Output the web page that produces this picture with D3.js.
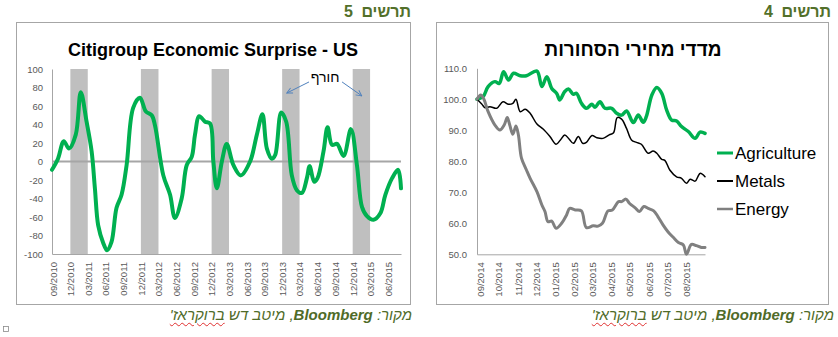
<!DOCTYPE html>
<html><head><meta charset="utf-8">
<script src="https://cdn.jsdelivr.net/npm/d3@7"></script>
<style>
body{margin:0;background:#fff;width:838px;height:337px;overflow:hidden;position:relative;font-family:"Liberation Sans",Arial,sans-serif}
svg{position:absolute;left:0;top:0}
.hdr{position:absolute;direction:rtl;font-weight:bold;font-size:16px;line-height:16px;color:#52702a;white-space:nowrap;word-spacing:4px}
.src{position:absolute;direction:rtl;font-style:italic;font-size:15px;line-height:15px;color:#4f6b28;white-space:nowrap}
.src .sp{text-decoration:underline wavy #e03030;text-decoration-thickness:1px;text-underline-offset:2px}
</style></head><body>
<svg id="chart" width="838" height="337"></svg>
<div class="hdr" style="right:427px;top:4px">תרשים 5</div>
<div class="hdr" style="right:7px;top:4px">תרשים 4</div>
<div class="src" style="right:426px;top:307px">מקור: <b>Bloomberg</b>, מיטב דש <span class="sp">ברוקראז'</span></div>
<div class="src" style="right:4px;top:307px">מקור: <b>Bloomberg</b>, מיטב דש <span class="sp">ברוקראז'</span></div>
<script>
// ---------- DATA: Citigroup Economic Surprise - US ----------
const citiTitle = "Citigroup Economic Surprise - US";
const citiDates = ["2010-08-28","2010-09-28","2010-10-28","2010-11-24","2010-12-29","2011-01-24","2011-02-23","2011-03-21","2011-04-07","2011-04-24","2011-05-20","2011-06-09","2011-07-02","2011-07-28","2011-08-23","2011-09-18","2011-10-22","2011-11-26","2011-12-27","2012-01-26","2012-02-12","2012-03-26","2012-04-30","2012-05-25","2012-06-29","2012-07-25","2012-08-20","2012-09-06","2012-09-28","2012-10-28","2012-11-23","2012-12-10","2012-12-28","2013-01-23","2013-02-17","2013-03-24","2013-05-01","2013-06-18","2013-07-23","2013-08-21","2013-09-13","2013-10-09","2013-10-26","2013-11-26","2013-12-22","2014-01-20","2014-02-15","2014-03-13","2014-04-08","2014-04-22","2014-05-16","2014-06-02","2014-07-03","2014-07-24","2014-08-16","2014-09-11","2014-10-15","2014-11-22","2014-12-23","2015-01-18","2015-02-13","2015-03-19","2015-04-23","2015-05-19","2015-06-23","2015-07-24","2015-08-08"];
const citiValues = [-9,3,22,14,29,75,43,11,-29,-69,-88,-96,-87,-50,-36,-4,58,69,54,50,39,-15,-36,-61,-40,-4,5,29,49,43,41,0,-29,0,19,-4,-15,0,29,51,14,3,7,53,43,-15,-31,-34,-18,-5,-22,-18,11,37,18,19,6,35,-4,-49,-59,-63,-56,-36,-18,-9,-29];
const winterStarts = ["2010-12-01","2011-12-01","2012-12-01","2013-12-01","2014-12-01"];
const winterEnds   = ["2011-03-01","2012-03-01","2013-03-01","2014-03-01","2015-03-01"];
const citiYTicks = [-100,-80,-60,-40,-20,0,20,40,60,80,100];
const citiXTicks = ["2010-09-01","2010-12-01","2011-03-01","2011-06-01","2011-09-01","2011-12-01","2012-03-01","2012-06-01","2012-09-01","2012-12-01","2013-03-01","2013-06-01","2013-09-01","2013-12-01","2014-03-01","2014-06-01","2014-09-01","2014-12-01","2015-03-01","2015-06-01"];
const citiDomain = ["2010-08-28","2015-08-08"];
const winterLabel = "חורף";
const winterLabelAt = ["2014-07-11", 86];
const arrowFrom = [["2014-04-19", 86], ["2014-10-07", 86]];
const arrowTo   = [["2013-12-25", 74], ["2015-01-17", 71]];

// ---------- DATA: commodity price indices ----------
const commTitle = "מדדי מחירי הסחורות";
const seriesNames = ["Agriculture","Metals","Energy"];
const agriDates = ["2014-08-27","2014-09-06","2014-09-14","2014-09-25","2014-10-02","2014-10-09","2014-10-17","2014-10-25","2014-11-05","2014-11-15","2014-12-02","2014-12-10","2014-12-18","2014-12-26","2015-01-03","2015-01-08","2015-01-16","2015-01-22","2015-01-30","2015-02-04","2015-02-12","2015-02-20","2015-03-01","2015-03-06","2015-03-14","2015-03-22","2015-04-02","2015-04-10","2015-04-18","2015-04-26","2015-05-07","2015-05-15","2015-05-23","2015-05-28","2015-06-06","2015-06-14","2015-06-22","2015-06-30","2015-07-08","2015-07-16","2015-07-24","2015-08-04","2015-08-15","2015-08-23","2015-08-31"];
const agriValues = [100.0,100.9,104.1,105.7,105.1,108.9,106.2,108.4,107.6,107.6,109.1,104.1,107.3,103.5,101.9,99.8,102.5,103.3,101.6,101.9,98.7,97.1,98.4,97.4,99.2,97.1,97.1,95.5,94.9,96.2,92.5,94.9,92.6,94.4,101.4,103.8,101.9,96.5,93.3,93.0,91.2,89.6,87.4,89.4,89.0];
const metalsDates = ["2014-08-27","2014-09-04","2014-09-09","2014-09-17","2014-09-28","2014-10-08","2014-10-17","2014-10-24","2014-10-29","2014-11-05","2014-11-13","2014-11-21","2014-12-02","2014-12-12","2014-12-23","2015-01-02","2015-01-09","2015-01-16","2015-01-23","2015-01-30","2015-02-07","2015-02-14","2015-02-20","2015-03-01","2015-03-09","2015-03-19","2015-03-29","2015-04-05","2015-04-11","2015-04-18","2015-04-26","2015-05-04","2015-05-12","2015-05-20","2015-05-31","2015-06-08","2015-06-14","2015-06-22","2015-06-27","2015-07-05","2015-07-16","2015-07-24","2015-08-01","2015-08-07","2015-08-15","2015-08-23","2015-08-31"];
const metalsValues = [100.0,98.4,97.3,97.6,97.1,99.2,98.4,98.7,100.0,96.0,96.8,95.5,92.0,90.4,88.0,85.5,86.9,88.5,87.2,85.8,88.0,85.8,86.1,88.3,87.6,87.4,88.5,89.2,94.1,93.6,90.6,86.9,86.1,85.5,82.6,83.3,82.6,80.6,80.3,77.2,75.0,74.5,72.9,74.2,73.6,76.1,75.0];
const energyDates = ["2014-08-27","2014-09-02","2014-09-07","2014-09-14","2014-09-25","2014-10-03","2014-10-10","2014-10-15","2014-10-19","2014-10-24","2014-10-29","2014-11-02","2014-11-07","2014-11-15","2014-11-21","2014-12-02","2014-12-10","2014-12-15","2014-12-20","2014-12-26","2015-01-02","2015-01-11","2015-01-19","2015-01-24","2015-02-02","2015-02-12","2015-02-20","2015-03-03","2015-03-11","2015-03-18","2015-03-27","2015-04-03","2015-04-13","2015-04-18","2015-04-25","2015-05-01","2015-05-10","2015-05-17","2015-05-24","2015-05-31","2015-06-09","2015-06-16","2015-06-24","2015-07-02","2015-07-11","2015-07-19","2015-07-27","2015-08-01","2015-08-09","2015-08-17","2015-08-25","2015-08-31"];
const energyValues = [100.0,101.4,100.1,96.0,91.7,90.1,91.7,94.1,91.7,88.7,91.4,88.5,81.0,77.2,74.5,70.2,65.9,63.8,60.5,60.7,58.4,60.0,62.7,64.8,64.3,64.0,58.6,59.2,59.1,60.0,64.0,64.3,67.0,67.0,67.8,66.4,65.0,63.8,65.4,64.8,64.0,62.1,59.5,57.3,55.4,53.8,53.0,50.0,53.2,52.8,52.2,52.2];
const commYTicks = [50,60,70,80,90,100,110];
const commXTicks = ["2014-09-01","2014-10-01","2014-11-01","2014-12-01","2015-01-01","2015-02-01","2015-03-01","2015-04-01","2015-05-01","2015-06-01","2015-07-01","2015-08-01"];
const commDomain = ["2014-08-27","2015-08-31"];

// ---------- RENDER ----------
const parse = d3.timeParse("%Y-%m-%d");
const fmtMY = d3.timeFormat("%m/%Y");
const FONT = "'Liberation Sans', Arial, sans-serif";
const svg = d3.select("#chart");

// frames
svg.append("rect").attr("x",16.5).attr("y",22.5).attr("width",394).attr("height",282)
  .attr("fill","none").attr("stroke","#a6a6a6");
svg.append("rect").attr("x",436.5).attr("y",22.5).attr("width",392).attr("height",282)
  .attr("fill","none").attr("stroke","#a6a6a6");
// tiny paragraph mark box
svg.append("rect").attr("x",3.5).attr("y",326.5).attr("width",5).attr("height",5)
  .attr("fill","none").attr("stroke","#8a8a8a").attr("stroke-width",0.8);

const defs = svg.append("defs");
defs.append("marker").attr("id","arr").attr("viewBox","0 0 10 10").attr("refX",9).attr("refY",5)
  .attr("markerWidth",7).attr("markerHeight",7).attr("orient","auto")
  .append("path").attr("d","M1,1 L9,5 L1,9").attr("fill","none").attr("stroke","#4f81bd").attr("stroke-width",1.3);

function styleAxis(g){
  g.attr("font-family",FONT).attr("font-size",9.5);
  g.selectAll("text").attr("fill","#595959");
  g.select(".domain").attr("stroke","#a6a6a6");
}

// ===== Left chart =====
const xL = d3.scaleTime().domain(citiDomain.map(parse)).range([52,401]);
const yL = d3.scaleLinear().domain([-100,100]).range([254,69]);
const gL = svg.append("g");

gL.append("text").attr("x",213).attr("y",56).attr("text-anchor","middle")
  .attr("font-family",FONT).attr("font-weight","bold").attr("font-size",18).attr("fill","#000")
  .text(citiTitle);

gL.selectAll("rect.winter").data(winterStarts).join("rect").attr("class","winter")
  .attr("x",d=>xL(parse(d)))
  .attr("width",(d,i)=>xL(parse(winterEnds[i]))-xL(parse(d)))
  .attr("y",yL(100)).attr("height",yL(-100)-yL(100)).attr("fill","#bfbfbf");

const ayL = gL.append("g").attr("transform",`translate(${xL.range()[0]},0)`)
  .call(d3.axisLeft(yL).tickValues(citiYTicks).tickFormat(d=>String(d)).tickSize(0).tickSizeOuter(0).tickPadding(9));
styleAxis(ayL);

const axL = gL.append("g").attr("transform",`translate(0,${yL(-100)})`)
  .call(d3.axisBottom(xL).tickValues(citiXTicks.map(parse)).tickFormat(fmtMY).tickSize(0).tickSizeOuter(0));
styleAxis(axL);
axL.selectAll("text").attr("transform","rotate(-90)").attr("text-anchor","end")
  .attr("x",-8).attr("y",0).attr("dy","0.35em");

gL.append("line").attr("x1",xL.range()[0]).attr("x2",xL.range()[1])
  .attr("y1",yL(0)).attr("y2",yL(0)).attr("stroke","#a6a6a6").attr("stroke-width",2);

const citiData = citiDates.map((d,i)=>({date:parse(d), v:citiValues[i]}));
gL.append("path").datum(citiData)
  .attr("d",d3.line().x(d=>xL(d.date)).y(d=>yL(d.v)).curve(d3.curveCatmullRom.alpha(0.5)))
  .attr("fill","none").attr("stroke","#00b050").attr("stroke-width",4)
  .attr("stroke-linejoin","round").attr("stroke-linecap","round");

// annotation
gL.append("text").attr("x",xL(parse(winterLabelAt[0]))).attr("y",yL(winterLabelAt[1]))
  .attr("text-anchor","middle").attr("font-family",FONT).attr("font-size",14).attr("fill","#000")
  .text(winterLabel);
gL.selectAll("line.arrow").data(arrowFrom).join("line").attr("class","arrow")
  .attr("x1",d=>xL(parse(d[0]))).attr("y1",d=>yL(d[1]))
  .attr("x2",(d,i)=>xL(parse(arrowTo[i][0]))).attr("y2",(d,i)=>yL(arrowTo[i][1]))
  .attr("stroke","#4f81bd").attr("stroke-width",1).attr("marker-end","url(#arr)");

// ===== Right chart =====
const xR = d3.scaleTime().domain(commDomain.map(parse)).range([477,705]);
const yR = d3.scaleLinear().domain([50,110]).range([254.3,68.3]);
const gR = svg.append("g");

gR.append("text").attr("x",633).attr("y",56).attr("text-anchor","middle")
  .attr("font-family",FONT).attr("font-weight","bold").attr("font-size",19).attr("fill","#000")
  .text(commTitle);

const ayR = gR.append("g").attr("transform",`translate(${xR.range()[0]},0)`)
  .call(d3.axisLeft(yR).tickValues(commYTicks).tickFormat(d3.format(".1f")).tickSize(0).tickSizeOuter(0).tickPadding(10));
styleAxis(ayR);

const axR = gR.append("g").attr("transform",`translate(0,${yR(50)})`)
  .call(d3.axisBottom(xR).tickValues(commXTicks.map(parse)).tickFormat(fmtMY).tickSize(0).tickSizeOuter(0));
styleAxis(axR);
axR.selectAll("text").attr("transform","rotate(-90)").attr("text-anchor","end")
  .attr("x",-8).attr("y",0).attr("dy","0.35em");

const seriesDates = [agriDates, metalsDates, energyDates];
const seriesValues = [agriValues, metalsValues, energyValues];
const seriesColors = ["#00b050","#000000","#808080"];
const seriesWidths = [3.5,1.5,3];
const lineR = d3.line().x(d=>xR(d.date)).y(d=>yR(d.v)).curve(d3.curveCatmullRom.alpha(0.5));
seriesNames.forEach((name,k)=>{
  const data = seriesDates[k].map((d,i)=>({date:parse(d), v:seriesValues[k][i]}));
  gR.append("path").datum(data).attr("d",lineR)
    .attr("fill","none").attr("stroke",seriesColors[k]).attr("stroke-width",seriesWidths[k])
    .attr("stroke-linejoin","round").attr("stroke-linecap","round");
});

// legend
const lg = gR.append("g").attr("transform","translate(717,153)");
seriesNames.forEach((name,k)=>{
  const row = lg.append("g").attr("transform",`translate(0,${k*28})`);
  row.append("line").attr("x1",0).attr("x2",16).attr("y1",0).attr("y2",0)
    .attr("stroke",seriesColors[k]).attr("stroke-width",Math.max(2,seriesWidths[k]-0.5));
  row.append("text").attr("x",18).attr("y",6).attr("font-family",FONT).attr("font-size",17)
    .attr("fill","#000").text(name);
});
</script>
</body></html>
